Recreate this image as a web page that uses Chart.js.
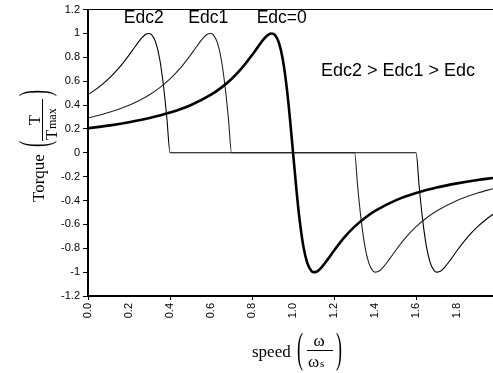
<!DOCTYPE html>
<html><head><meta charset="utf-8">
<script src="https://cdn.jsdelivr.net/npm/chart.js@4/dist/chart.umd.min.js"></script>
<style>html,body{margin:0;padding:0;background:#fff;overflow:hidden}canvas{display:block}</style>
</head><body>
<canvas id="c" width="493" height="373"></canvas>
<script>
// Edc = 0 curve
const speed0  = [0, 0.1, 0.2, 0.3, 0.4, 0.5, 0.6, 0.65, 0.7, 0.75, 0.8, 0.83, 0.86, 0.88, 0.896, 0.91, 0.93, 0.95, 0.97, 0.985, 1.0, 1.015, 1.03, 1.05, 1.07, 1.09, 1.104, 1.12, 1.14, 1.17, 1.2, 1.25, 1.3, 1.35, 1.4, 1.5, 1.6, 1.7, 1.8, 1.9, 1.975];
const torque0 = [0.206, 0.228, 0.256, 0.291, 0.337, 0.399, 0.487, 0.546, 0.619, 0.709, 0.819, 0.891, 0.958, 0.991, 1.0, 0.991, 0.927, 0.782, 0.533, 0.283, 0, -0.283, -0.533, -0.782, -0.927, -0.991, -1.0, -0.991, -0.958, -0.891, -0.819, -0.709, -0.619, -0.546, -0.487, -0.399, -0.337, -0.291, -0.256, -0.228, -0.211];
// Edc1 curve
const speed1  = [0, 0.1, 0.2, 0.25, 0.3, 0.35, 0.4, 0.45, 0.5, 0.53, 0.56, 0.58, 0.596, 0.61, 0.63, 0.65, 0.67, 0.685, 0.7, 1.0, 1.3, 1.315, 1.33, 1.35, 1.37, 1.39, 1.404, 1.42, 1.44, 1.47, 1.5, 1.55, 1.6, 1.65, 1.7, 1.8, 1.9, 1.975];
const torque1 = [0.291, 0.337, 0.399, 0.439, 0.487, 0.546, 0.619, 0.709, 0.819, 0.891, 0.958, 0.991, 1.0, 0.991, 0.927, 0.782, 0.533, 0.283, 0, 0, 0, -0.283, -0.533, -0.782, -0.927, -0.991, -1.0, -0.991, -0.958, -0.891, -0.819, -0.709, -0.619, -0.546, -0.487, -0.399, -0.337, -0.301];
// Edc2 curve
const speed2  = [0, 0.05, 0.1, 0.15, 0.2, 0.23, 0.26, 0.28, 0.296, 0.31, 0.33, 0.35, 0.37, 0.385, 0.4, 1.0, 1.6, 1.615, 1.63, 1.65, 1.67, 1.69, 1.704, 1.72, 1.74, 1.77, 1.8, 1.85, 1.9, 1.95, 1.975];
const torque2 = [0.487, 0.546, 0.619, 0.709, 0.819, 0.891, 0.958, 0.991, 1.0, 0.991, 0.927, 0.782, 0.533, 0.283, 0, 0, 0, -0.283, -0.533, -0.782, -0.927, -0.991, -1.0, -0.991, -0.958, -0.891, -0.819, -0.709, -0.619, -0.546, -0.515];

const seriesNames = ['Edc=0', 'Edc1', 'Edc2'];
const noteText = 'Edc2 > Edc1 > Edc';
const xTicks = [0, 0.2, 0.4, 0.6, 0.8, 1.0, 1.2, 1.4, 1.6, 1.8];
const xTickLabels = ['0.0', '0.2', '0.4', '0.6', '0.8', '1.0', '1.2', '1.4', '1.6', '1.8'];
const yTicks = [-1.2, -1, -0.8, -0.6, -0.4, -0.2, 0, 0.2, 0.4, 0.6, 0.8, 1, 1.2];
const yTickLabels = ['-1.2', '-1', '-0.8', '-0.6', '-0.4', '-0.2', '0', '0.2', '0.4', '0.6', '0.8', '1', '1.2'];
const xRange = [0, 1.975];
const yRange = [-1.2, 1.2];

function pts(xs, ys) { return xs.map((x, i) => ({ x: x, y: ys[i] })); }

const SANS = '"Liberation Sans", Arial, sans-serif';
const SERIF = '"Liberation Serif", "Times New Roman", serif';

const textPlugin = {
  id: 'texts',
  afterDraw(chart) {
    const ctx = chart.ctx;
    const xs = chart.scales.x;
    ctx.save();
    ctx.fillStyle = '#000';
    // curve labels above the peaks
    const peaks = [[speed0, torque0, 10], [speed1, torque1, -2], [speed2, torque2, -5]];
    ctx.font = '17.5px ' + SANS;
    ctx.textAlign = 'center';
    ctx.textBaseline = 'alphabetic';
    peaks.forEach((p, i) => {
      const k = p[1].indexOf(Math.max.apply(null, p[1]));
      const px = xs.getPixelForValue(p[0][k]) + p[2];
      ctx.fillText(seriesNames[i], px, 23);
    });
    ctx.textAlign = 'left';
    ctx.font = '18px ' + SANS;
    ctx.fillText(noteText, 321, 76);

    // x axis title
    ctx.font = '17px ' + SERIF;
    ctx.textAlign = 'left';
    ctx.fillText('speed', 252, 357);
    drawParen(ctx, '(', 297, 351);
    drawParen(ctx, ')', 336, 351);
    ctx.fillRect(307, 350, 26, 1);
    ctx.textAlign = 'center';
    ctx.font = '17px ' + SERIF;
    ctx.fillText('\u03c9', 319, 346);
    ctx.textAlign = 'left';
    ctx.fillText('\u03c9', 308, 367);
    ctx.font = '11px ' + SERIF;
    ctx.fillText('s', 320, 367);

    // y axis title (rotated)
    ctx.save();
    ctx.translate(44, 202);
    ctx.rotate(-Math.PI / 2);
    ctx.font = '17px ' + SERIF;
    ctx.textAlign = 'left';
    ctx.fillText('Torque', 0, 0);
    ctx.restore();
    ctx.save();
    ctx.translate(37, 120);
    ctx.rotate(-Math.PI / 2);
    drawParen(ctx, '(', -27, 0);
    drawParen(ctx, ')', 24, 0);
    ctx.fillRect(-21, 5, 42, 1);
    ctx.font = '17px ' + SERIF;
    ctx.textAlign = 'center';
    ctx.fillText('T', 0, 3);
    ctx.textAlign = 'left';
    ctx.fillText('T', -20, 20);
    ctx.font = '12px ' + SERIF;
    ctx.fillText('max', -9, 19);
    ctx.restore();
    ctx.restore();
  }
};

function drawParen(ctx, ch, x, cy) {
  ctx.save();
  ctx.font = '18px ' + SERIF;
  ctx.textAlign = 'left';
  ctx.textBaseline = 'middle';
  ctx.translate(x, cy);
  ctx.scale(1, 2.3);
  ctx.fillText(ch, 0, 0);
  ctx.restore();
}

new Chart(document.getElementById('c'), {
  type: 'line',
  data: {
    datasets: [
      { label: seriesNames[0], data: pts(speed0, torque0), borderColor: '#000', borderWidth: 2.6 },
      { label: seriesNames[1], data: pts(speed1, torque1), borderColor: '#222', borderWidth: 1.1 },
      { label: seriesNames[2], data: pts(speed2, torque2), borderColor: '#000', borderWidth: 1.1 }
    ]
  },
  options: {
    responsive: false,
    animation: false,
    devicePixelRatio: 1,
    layout: { padding: { top: 9, right: 0, left: 0, bottom: 0 } },
    elements: { point: { radius: 0 }, line: { cubicInterpolationMode: 'monotone', fill: false } },
    plugins: { legend: { display: false }, tooltip: { enabled: false } },
    scales: {
      x: {
        type: 'linear', min: xRange[0], max: xRange[1],
        afterBuildTicks: s => { s.ticks = xTicks.map(v => ({ value: v })); },
        afterFit: s => { s.height = 77; },
        ticks: {
          autoSkip: false, maxRotation: 90, minRotation: 90, padding: 3,
          color: '#000', font: { family: SANS, size: 11 },
          callback: (v) => xTickLabels[xTicks.indexOf(v)]
        },
        grid: {
          drawOnChartArea: false, tickLength: 4, lineWidth: 1,
          tickColor: c => (c.index % 2 === 0 ? '#000' : 'rgba(0,0,0,0)')
        },
        border: { color: '#000', width: 2 }
      },
      y: {
        type: 'linear', min: yRange[0], max: yRange[1],
        afterBuildTicks: s => { s.ticks = yTicks.map(v => ({ value: v })); },
        afterFit: s => { s.width = 88; },
        ticks: {
          autoSkip: false, padding: 3, color: '#000', font: { family: SANS, size: 11 },
          callback: (v) => yTickLabels[yTicks.indexOf(v)]
        },
        grid: {
          drawOnChartArea: true, tickLength: 5, lineWidth: 1,
          color: c => (c.tick && c.tick.value === yRange[1] ? '#000' : 'rgba(0,0,0,0)'),
          tickColor: '#000'
        },
        border: { color: '#000', width: 2 }
      }
    }
  },
  plugins: [textPlugin]
});
</script>
</body></html>
